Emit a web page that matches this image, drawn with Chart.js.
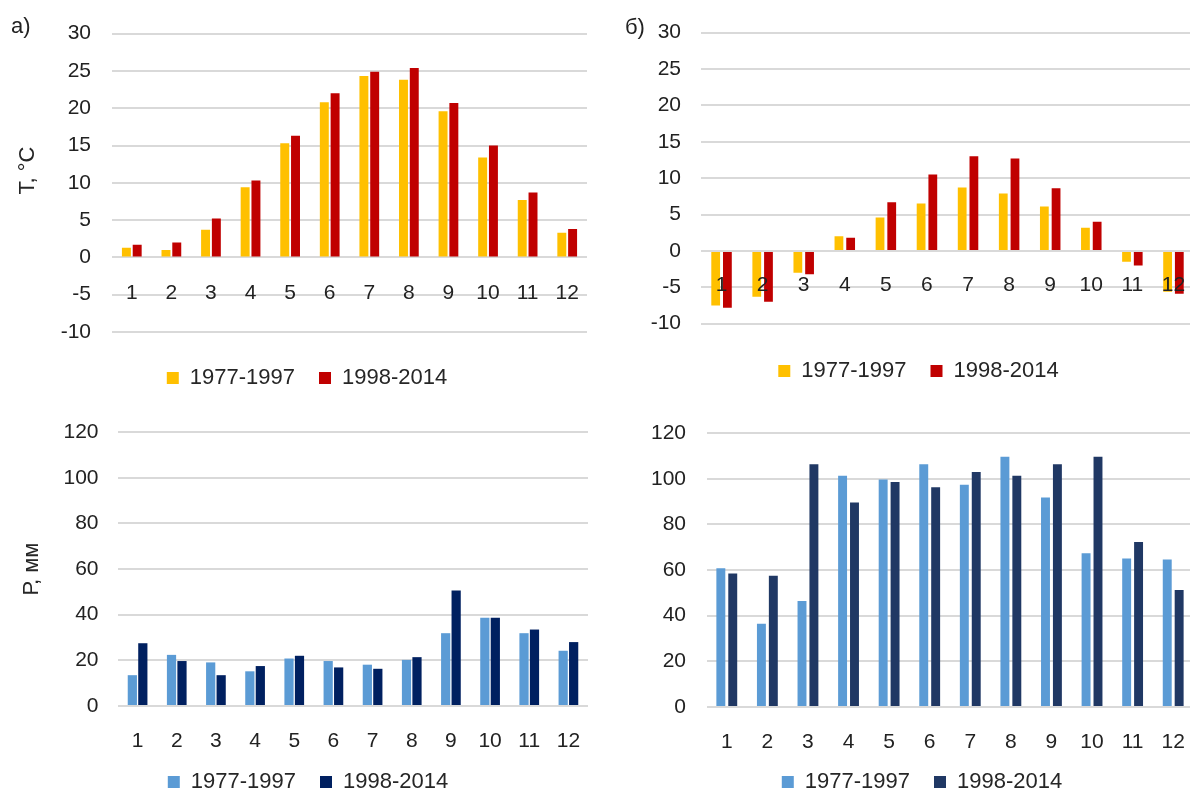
<!DOCTYPE html>
<html>
<head>
<meta charset="utf-8">
<script src="https://cdn.jsdelivr.net/npm/chart.js@4.4.1/dist/chart.umd.min.js"></script>
<style>
  html, body { margin: 0; padding: 0; width: 1190px; height: 793px; overflow: hidden; background: #fff; }
  canvas { position: absolute; }
  .tag { position: absolute; font: 22px 'Liberation Sans', Arial, sans-serif; line-height: 22px; color: #222; }
</style>
</head>
<body>
<canvas id="tempA" width="600" height="399" style="left:0;top:0"></canvas>
<canvas id="tempB" width="600" height="392" style="left:600px;top:0"></canvas>
<canvas id="precA" width="600" height="403" style="left:0;top:400px"></canvas>
<canvas id="precB" width="600" height="403" style="left:600px;top:400px"></canvas>
<div class="tag" style="left:11px;top:15px">а)</div>
<div class="tag" style="left:625px;top:16px">б)</div>
<script>
// Months and the two averaging periods
const months = ['1', '2', '3', '4', '5', '6', '7', '8', '9', '10', '11', '12'];
const periods = ['1977-1997', '1998-2014'];

// Mean monthly air temperature, °C — station а)
const tempA_1977 = [1.3, 1.0, 3.7, 9.4, 15.3, 20.8, 24.3, 23.8, 19.6, 13.4, 7.7, 3.3];
const tempA_1998 = [1.7, 2.0, 5.2, 10.3, 16.3, 22.0, 24.9, 25.4, 20.7, 15.0, 8.7, 3.8];

// Mean monthly air temperature, °C — station б)
const tempB_1977 = [-7.5, -6.3, -3.0, 2.0, 4.6, 6.5, 8.7, 7.9, 6.1, 3.2, -1.5, -5.6];
const tempB_1998 = [-7.8, -7.0, -3.2, 1.8, 6.7, 10.5, 13.0, 12.7, 8.6, 4.0, -2.0, -5.9];

// Monthly precipitation, mm — station а)
const precA_1977 = [13.5, 22.4, 19.1, 15.2, 20.8, 19.7, 18.1, 20.2, 31.9, 38.7, 31.9, 24.2];
const precA_1998 = [27.5, 19.7, 13.5, 17.5, 22.0, 16.9, 16.3, 21.4, 50.6, 38.7, 33.5, 28.0];

// Monthly precipitation, mm — station б)
const precB_1977 = [60.8, 36.5, 46.4, 101.3, 99.7, 106.3, 97.4, 109.6, 91.8, 67.4, 65.1, 64.6];
const precB_1998 = [58.5, 57.5, 106.3, 89.6, 98.6, 96.3, 103.0, 101.3, 106.3, 109.6, 72.3, 51.3];

// Axis ranges
const tempMin = -10, tempMax = 30, tempStep = 5;
const precMin = 0, precMax = 120, precStep = 20;

Chart.defaults.font.family = "'Liberation Sans', Arial, sans-serif";
Chart.defaults.color = '#222';

function panel(id, o) {
  return new Chart(document.getElementById(id), {
    type: 'bar',
    data: {
      labels: months,
      datasets: [
        { label: periods[0], data: o.first, backgroundColor: o.colors[0] },
        { label: periods[1], data: o.second, backgroundColor: o.colors[1] }
      ]
    },
    options: {
      responsive: false,
      animation: false,
      devicePixelRatio: 1,
      categoryPercentage: o.cat,
      barPercentage: o.bar,
      layout: { padding: { left: o.padL, right: o.padR, top: o.padT, bottom: 0 } },
      plugins: {
        tooltip: { enabled: false },
        legend: {
          position: 'bottom',
          // empty title used only as a spacer between plot and legend
          title: { display: true, text: '', font: { size: 1, lineHeight: 1 }, padding: { top: o.legendGap, bottom: 0 } },
          labels: { boxWidth: 12, boxHeight: 12, padding: 24, font: { size: 22 }, color: '#262626' }
        }
      },
      scales: {
        x: {
          position: { y: 0 },
          grid: { display: false },
          border: { display: false },
          // month labels sit on the zero line, drawn above the bars
          ticks: { z: 1, font: { size: 21 }, padding: o.labelPad, maxRotation: 0, autoSkip: false, color: '#222' },
          afterFit: s => { s.height = 0; }
        },
        y: {
          min: o.min,
          max: o.max,
          ticks: { stepSize: o.step, font: { size: 21 }, padding: o.tickPad, color: '#222' },
          grid: { color: '#d9d9d9', lineWidth: 2, drawTicks: false },
          border: { display: false },
          title: o.title
            ? { display: true, text: o.title, font: { size: 22 }, color: '#262626', padding: { top: o.titlePad, bottom: 0 } }
            : { display: false },
          afterFit: s => { s.width = o.axisW; }
        }
      }
    }
  });
}

panel('tempA', {
  first: tempA_1977, second: tempA_1998, colors: ['#FFC000', '#C00000'],
  min: tempMin, max: tempMax, step: tempStep,
  cat: 0.545, bar: 0.83,
  padL: 27, padR: 13, padT: 25, axisW: 85, tickPad: 21, labelPad: 15, legendGap: 10,
  title: '    T, °C', titlePad: -12.7
});

panel('tempB', {
  first: tempB_1977, second: tempB_1998, colors: ['#FFC000', '#C00000'],
  min: tempMin, max: tempMax, step: tempStep,
  cat: 0.57, bar: 0.75,
  padL: 43, padR: 6, padT: 26, axisW: 58, tickPad: 20, labelPad: 14, legendGap: 11.3
});

panel('precA', {
  first: precA_1977, second: precA_1998, colors: ['#5B9BD5', '#002060'],
  min: precMin, max: precMax, step: precStep,
  cat: 0.535, bar: 0.88,
  padL: 28, padR: 12, padT: 29, axisW: 90, tickPad: 19.5, labelPad: 15, legendGap: 40,
  title: 'Р, мм', titlePad: -9.2
});

panel('precB', {
  first: precB_1977, second: precB_1998, colors: ['#5B9BD5', '#203864'],
  min: precMin, max: precMax, step: precStep,
  cat: 0.587, bar: 0.75,
  padL: 47, padR: 3, padT: 29, axisW: 59.5, tickPad: 20.5, labelPad: 15, legendGap: 39
});
</script>
</body>
</html>
